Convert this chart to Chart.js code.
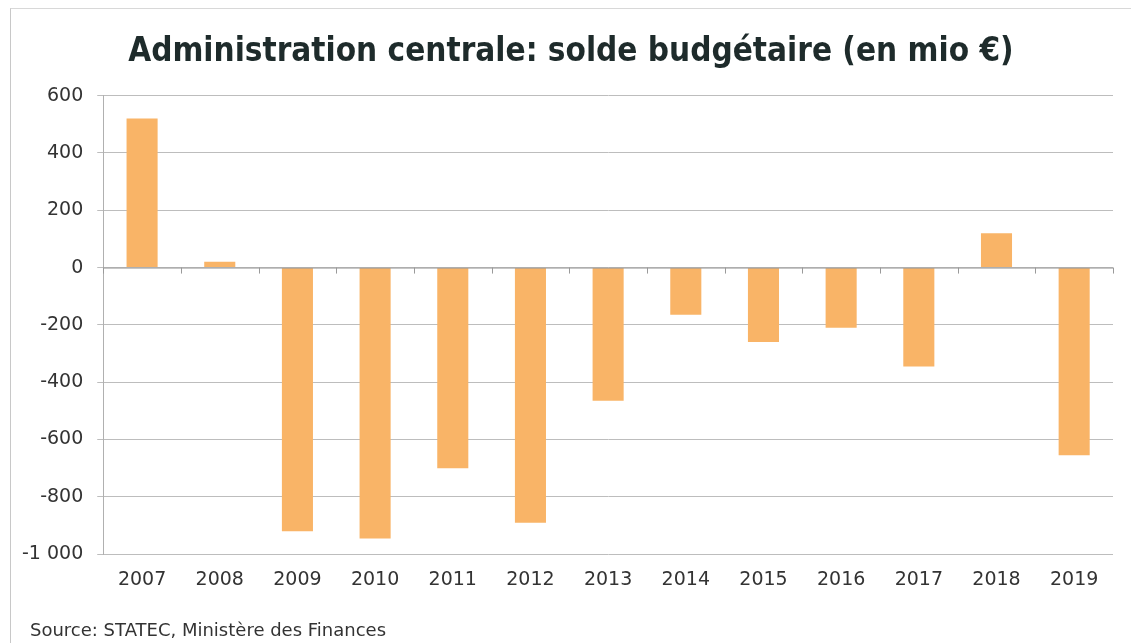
<!DOCTYPE html>
<html lang="fr">
<head>
  <meta charset="UTF-8" />
  <title>Administration centrale: solde budgétaire</title>
  <script src="https://cdn.jsdelivr.net/npm/chart.js"></script>
  <style>
    html, body { margin: 0; padding: 0; background: #fff; }
    #wrap { position: relative; width: 1131px; height: 643px; }
    #frame { position: absolute; left: 10px; top: 8px; right: 0; bottom: 0;
             border-left: 1px solid #c8c8c8; border-top: 1px solid #d8d8d8; }
    #source { position: absolute; left: 30px; top: 619px; font: 18px 'DejaVu Sans', sans-serif; color: #333; }
    canvas { position: absolute; left: 0; top: 0; }
  </style>
</head>
<body>
  <div id="wrap">
    <div id="frame"></div>
    <canvas id="chart" width="1131" height="643"></canvas>
    <div id="source">Source: STATEC, Ministère des Finances</div>
  </div>

  <script>
    // données
    const years = ['2007','2008','2009','2010','2011','2012','2013','2014','2015','2016','2017','2018','2019'];
    const solde = [520, 20, -920, -945, -700, -890, -465, -165, -260, -210, -345, 120, -655];
    const yTicks = [600, 400, 200, 0, -200, -400, -600, -800, -1000];

    const textColor = '#333333';

    // petites graduations sur la ligne du zéro (comme Excel)
    const zeroTicks = {
      id: 'zeroTicks',
      afterDatasetsDraw(chart) {
        const { ctx, scales: { x, y } } = chart;
        const y0 = y.getPixelForValue(0);
        ctx.save();
        ctx.strokeStyle = '#9a9a9a';
        ctx.lineWidth = 1;
        ctx.beginPath();
        ctx.moveTo(x.left, y0 + 0.5);
        ctx.lineTo(x.right, y0 + 0.5);
        const step = (x.right - x.left) / years.length;
        for (let i = 0; i <= years.length; i++) {
          const px = Math.round(x.left + i * step) + 0.5;
          ctx.moveTo(px, y0);
          ctx.lineTo(px, y0 + 6);
        }
        ctx.stroke();
        ctx.restore();
      }
    };

    new Chart(document.getElementById('chart'), {
      type: 'bar',
      data: {
        labels: years,
        datasets: [{
          data: solde,
          backgroundColor: '#F9B467',
          barPercentage: 0.4,
          categoryPercentage: 1.0
        }]
      },
      options: {
        responsive: false,
        animation: false,
        layout: { padding: { left: 8, right: 18, top: 4, bottom: 38 } },
        plugins: {
          legend: { display: false },
          tooltip: { enabled: false },
          title: {
            display: true,
            // espaces en tête pour recentrer le titre comme sur l'original
            text: '\u2002\u2009Administration centrale: solde budgétaire (en mio €)',
            color: '#1e2b2b',
            font: { family: 'DejaVu Sans Condensed', size: 33, weight: 'bold' },
            padding: { top: 29, bottom: 23 }
          }
        },
        scales: {
          x: {
            grid: { display: false, drawTicks: false },
            border: { display: false },
            ticks: {
              color: textColor,
              font: { family: 'DejaVu Sans', size: 19 },
              padding: 14
            }
          },
          y: {
            min: -1000,
            max: 600,
            afterBuildTicks(axis) {
              axis.ticks = yTicks.map(v => ({ value: v }));
            },
            grid: { color: '#bdbdbd', drawTicks: true, tickLength: 6, tickColor: '#bdbdbd' },
            border: { display: true, color: '#b0b0b0' },
            ticks: {
              color: textColor,
              font: { family: 'DejaVu Sans', size: 19 },
              padding: 14,
              callback: v => (v <= -1000 ? '-1\u00a0000' : String(v))
            }
          }
        }
      },
      plugins: [zeroTicks]
    });
  </script>
</body>
</html>
